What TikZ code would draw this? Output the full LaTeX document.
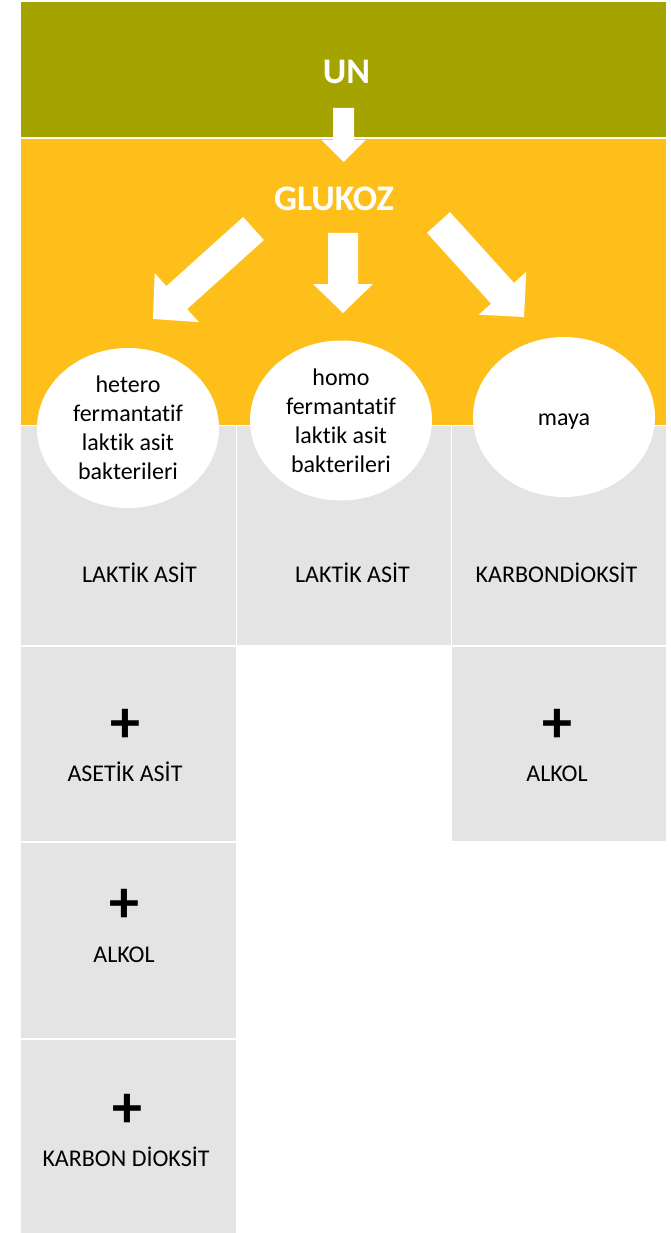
\documentclass[tikz,border=0pt]{standalone}
\usepackage{fontspec}
\setmainfont[Ligatures=NoCommon]{Carlito}
\usetikzlibrary{calc,shapes.geometric}
\definecolor{bandgreen}{RGB}{165,163,0}
\definecolor{bandorange}{RGB}{255,191,26}
\definecolor{cellgray}{RGB}{228,228,228}
% #1 tail, #2 tip, #3 shaft half width, #4 head half width, #5 head length
\newcommand\blockarrow[5]{%
  \coordinate (hb) at ($(#2)!#5!(#1)$);
  \fill[white] ($(#1)!#3!90:(#2)$) -- ($(hb)!#3!90:(#2)$) -- ($(hb)!#4!90:(#2)$)
    -- (#2) -- ($(hb)!#4!-90:(#2)$) -- ($(hb)!#3!-90:(#2)$) -- ($(#1)!#3!-90:(#2)$) -- cycle;
}
\begin{document}
\begin{tikzpicture}[x=1pt,y=-1pt,
  titletext/.style={font=\fontsize{36}{40}\selectfont\bfseries, text=white, anchor=base, inner sep=0pt},
  celltext/.style={font=\fontsize{24}{29}\selectfont, anchor=base, inner sep=0pt},
  plussign/.style={font=\fontsize{60}{60}\selectfont\bfseries, inner sep=0pt},
  bubble/.style={ellipse, fill=white, minimum width=182pt, minimum height=160pt, inner sep=0pt,
    font=\fontsize{24}{29}\selectfont, align=center}
]
\useasboundingbox (0,0) rectangle (671,1233);
% bands
\fill[bandgreen] (21,2) rectangle (666,137);
\fill[bandorange] (21,139) rectangle (666,425);
% cells
\fill[cellgray] (21,426) rectangle (235.5,645);
\fill[cellgray] (237,426) rectangle (450.5,645);
\fill[cellgray] (452,426) rectangle (666,645);
\fill[cellgray] (21,646.5) rectangle (235.5,841);
\fill[cellgray] (452,646.5) rectangle (666,841);
\fill[cellgray] (21,842.5) rectangle (235.5,1038);
\fill[cellgray] (21,1039.5) rectangle (235.5,1233);
% titles
\node[titletext] (un) at (346.5,83.5) {UN};
\node[titletext] (glukoz) at (334,210.5) {GLUKOZ};
% arrows
\coordinate (a0t) at (343.5,108); \coordinate (a0h) at (343.5,162);
\coordinate (a1t) at (253.5,228.5); \coordinate (a1h) at (153,319);
\coordinate (a2t) at (343,233); \coordinate (a2h) at (343,313);
\coordinate (a3t) at (438.5,222.5); \coordinate (a3h) at (524,317);
\blockarrow{a0t}{a0h}{10.5pt}{22pt}{22pt}
\blockarrow{a1t}{a1h}{15.5pt}{33pt}{32pt}
\blockarrow{a2t}{a2h}{15pt}{30pt}{29pt}
\blockarrow{a3t}{a3h}{15.5pt}{32pt}{32pt}
% bubbles
\node[bubble] (hetero) at (128,428) {hetero\\fermantatif\\laktik asit\\bakterileri};
\node[bubble] (homo) at (341,420.5) {homo\\fermantatif\\laktik asit\\bakterileri};
\node[bubble, text height=16pt, text depth=0pt] (maya) at (564,417) {maya};
% cell texts
\node[celltext] (lak1) at (139.5,582) {LAKTİK ASİT};
\node[celltext] (lak2) at (352.5,582) {LAKTİK ASİT};
\node[celltext] (karb1) at (556.5,582) {KARBONDİOKSİT};
\node[plussign] (p1) at (125,726) {+};
\node[celltext] (aset) at (125,781) {ASETİK ASİT};
\node[plussign] (p2) at (557,726) {+};
\node[celltext] (alk1) at (557,781) {ALKOL};
\node[plussign] (p3) at (124,906) {+};
\node[celltext] (alk2) at (124,962) {ALKOL};
\node[plussign] (p4) at (127,1111) {+};
\node[celltext] (karb2) at (126,1166) {KARBON DİOKSİT};
\end{tikzpicture}
\end{document}
